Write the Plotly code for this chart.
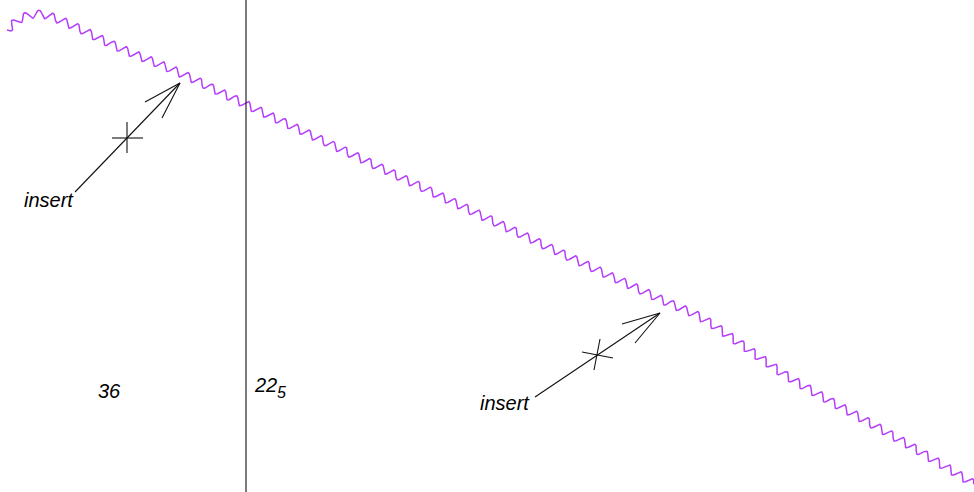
import numpy as np
import plotly.graph_objects as go

# ---- diagram data (canvas pixel units, y downward) ----
path_x = [7, 20, 36, 52, 80, 120, 180, 245, 400, 550, 660, 700, 735, 765, 800, 900, 974]
path_y = [30, 19, 14, 17, 29, 48, 73, 104, 177, 248, 299, 317, 340, 361, 384, 440, 484]

divider_x = [246, 246]
divider_y = [0, 492]

arrow1_shaft_x = [75, 180]; arrow1_shaft_y = [192, 83]
arrow1_barb_x = [145, 180, 162]; arrow1_barb_y = [102, 83, 118]
arrow1_cross_h_x = [112, 143]; arrow1_cross_h_y = [138, 138]
arrow1_cross_v_x = [127, 127]; arrow1_cross_v_y = [122, 153]

arrow2_shaft_x = [535, 660]; arrow2_shaft_y = [397, 313]
arrow2_barb_x = [622, 660, 635]; arrow2_barb_y = [324, 313, 343]
arrow2_cross_h_x = [582, 613]; arrow2_cross_h_y = [352, 358]
arrow2_cross_v_x = [600, 594]; arrow2_cross_v_y = [339, 370]

labels = ["<i>insert</i>", "<i>insert</i>", "<i>36</i>", "<i>22</i>", "<i>5</i>"]
label_x = [49, 505, 109, 253, 276]
label_y = [200, 403, 391, 385, 392]
label_anchor = ["center", "center", "center", "left", "left"]
label_size = [20, 20, 20, 20, 16]

W, H = 974, 492
WAVE_AMP = 3.8
WAVE_LEN = 13.4


def catmull_rom(xs, ys, n=40):
    P = np.column_stack([xs, ys]).astype(float)
    P = np.vstack([P[0] * 2 - P[1], P, P[-1] * 2 - P[-2]])
    out = []
    for i in range(1, len(P) - 2):
        p0, p1, p2, p3 = P[i - 1], P[i], P[i + 1], P[i + 2]
        t = np.linspace(0, 1, n, endpoint=False)[:, None]
        pt = 0.5 * ((2 * p1) + (-p0 + p2) * t + (2 * p0 - 5 * p1 + 4 * p2 - p3) * t ** 2
                    + (-p0 + 3 * p1 - 3 * p2 + p3) * t ** 3)
        out.append(pt)
    out.append(P[-2][None, :])
    return np.vstack(out)


base = catmull_rom(path_x, path_y)
seg = np.hypot(np.diff(base[:, 0]), np.diff(base[:, 1]))
s = np.concatenate([[0], np.cumsum(seg)])
su = np.arange(0, s[-1], 0.4)
bx = np.interp(su, s, base[:, 0])
by = np.interp(su, s, base[:, 1])
tx = np.gradient(bx); ty = np.gradient(by)
tn = np.hypot(tx, ty)
nx, ny = -ty / tn, tx / tn
off = WAVE_AMP * np.sin(2 * np.pi * su / WAVE_LEN)
wx = bx + nx * off
wy = by + ny * off

fig = go.Figure()
fig.add_trace(go.Scatter(x=wx, y=wy, mode="lines",
                         line=dict(color="#B53EFA", width=1.5), hoverinfo="skip"))

black = dict(color="#111111", width=1.1)
for xs, ys in [(divider_x, divider_y),
               (arrow1_shaft_x, arrow1_shaft_y), (arrow1_barb_x, arrow1_barb_y),
               (arrow1_cross_h_x, arrow1_cross_h_y), (arrow1_cross_v_x, arrow1_cross_v_y),
               (arrow2_shaft_x, arrow2_shaft_y), (arrow2_barb_x, arrow2_barb_y),
               (arrow2_cross_h_x, arrow2_cross_h_y), (arrow2_cross_v_x, arrow2_cross_v_y)]:
    fig.add_trace(go.Scatter(x=xs, y=ys, mode="lines", line=black, hoverinfo="skip"))

for t, x, y, a, sz in zip(labels, label_x, label_y, label_anchor, label_size):
    fig.add_annotation(x=x, y=y, text=t, showarrow=False, xanchor=a, yanchor="middle",
                       borderpad=0,
                       font=dict(family="Liberation Sans, Arial, sans-serif", size=sz, color="#000000"))

fig.update_layout(width=W, height=H, margin=dict(l=0, r=0, t=0, b=0),
                  paper_bgcolor="white", plot_bgcolor="white", showlegend=False)
fig.update_xaxes(range=[0, W], visible=False, fixedrange=True)
fig.update_yaxes(range=[H, 0], visible=False, fixedrange=True)

html = fig.to_html(config={"displayModeBar": False})
html = html.replace("<head>", "<head><style>html,body{margin:0;padding:0;overflow:hidden;}</style>", 1)
with open("out.html", "w", encoding="utf-8") as f:
    f.write(html)
